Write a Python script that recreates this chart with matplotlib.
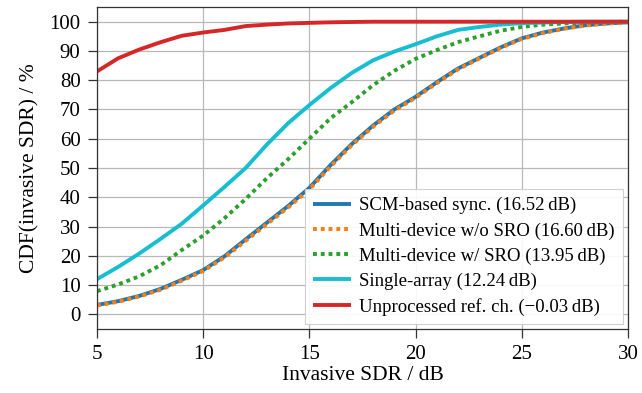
import matplotlib
matplotlib.use("Agg")
import matplotlib.pyplot as plt

plt.rcParams['font.family'] = ['Liberation Serif', 'DejaVu Serif']
plt.rcParams['mathtext.fontset'] = 'stix'

sdr = [5, 6, 7, 8, 9, 10, 11, 12, 13, 14, 15, 16, 17, 18, 19, 20, 21, 22, 23, 24, 25, 26, 27, 28, 29, 30]

scm = [3.2, 4.5, 6.3, 8.7, 11.8, 15.1, 19.8, 25.6, 31.3, 37.0, 43.2, 51.0, 58.2, 64.5, 70.0, 74.3, 79.3, 84.0, 87.6, 91.2, 94.3, 96.3, 97.7, 98.8, 99.4, 99.8]
no_sro = [3.0, 4.3, 6.1, 8.4, 11.5, 14.8, 19.4, 25.1, 30.8, 36.5, 42.7, 50.5, 57.8, 64.1, 69.6, 74.0, 79.0, 83.7, 87.4, 91.0, 94.1, 96.1, 97.6, 98.7, 99.4, 99.8]
w_sro = [7.9, 10.2, 13.0, 16.8, 22.0, 26.9, 32.8, 39.4, 46.5, 53.0, 60.0, 67.0, 72.5, 78.3, 83.2, 87.3, 90.3, 93.0, 95.0, 96.9, 98.2, 99.0, 99.4, 99.7, 99.9, 100.0]
single = [12.0, 16.2, 20.8, 25.8, 31.0, 37.2, 43.5, 50.0, 58.0, 65.3, 71.5, 77.3, 82.5, 86.8, 89.8, 92.3, 95.0, 97.2, 98.2, 99.0, 99.5, 99.7, 99.9, 100.0, 100.0, 100.0]
unproc = [83.0, 87.5, 90.5, 93.0, 95.2, 96.3, 97.2, 98.5, 99.0, 99.4, 99.6, 99.8, 99.9, 100.0, 100.0, 100.0, 100.0, 100.0, 100.0, 100.0, 100.0, 100.0, 100.0, 100.0, 100.0, 100.0]

labels = [
    "SCM-based sync. (16.52\u2009dB)",
    "Multi-device w/o SRO (16.60\u2009dB)",
    "Multi-device w/ SRO (13.95\u2009dB)",
    "Single-array (12.24\u2009dB)",
    "Unprocessed ref. ch. (\u22120.03\u2009dB)",
]

fig = plt.figure(figsize=(6.42, 3.93), dpi=100)
ax = fig.add_axes([0.151, 0.163, 0.827, 0.819])

lw = 2.8
dot = (0, (1, 1))
ax.plot(sdr, scm, color='#1f77b4', lw=lw, label=labels[0], solid_capstyle='butt')
ax.plot(sdr, no_sro, color='#ff7f0e', lw=lw, ls=dot, label=labels[1], dash_capstyle='butt')
ax.plot(sdr, w_sro, color='#2ca02c', lw=lw, ls=dot, label=labels[2], dash_capstyle='butt')
ax.plot(sdr, single, color='#17becf', lw=lw, label=labels[3], solid_capstyle='butt')
ax.plot(sdr, unproc, color='#d62728', lw=lw, label=labels[4], solid_capstyle='butt')

ax.set_xlim(5, 30)
ax.set_ylim(-5, 105)
ax.set_xticks([5, 10, 15, 20, 25, 30])
ax.set_yticks(list(range(0, 101, 10)))
ax.grid(True, color='#b8b8b8', lw=0.9)
ax.set_axisbelow(True)
for s in ax.spines.values():
    s.set_color('#333333')
    s.set_linewidth(0.9)
ax.tick_params(direction='out', length=6.3, width=0.9, labelsize=15, color='#333333', pad=5.5)
ax.set_xlabel("Invasive SDR / dB", fontsize=15.5, labelpad=1)
ax.set_ylabel("CDF(invasive SDR) / %", fontsize=15.5, labelpad=7)

leg = ax.legend(loc='lower right', fontsize=13.5, borderaxespad=0.25, handlelength=2.0,
                labelspacing=0.42, handletextpad=0.45, borderpad=0.45, fancybox=False,
                framealpha=0.9, edgecolor='#cccccc')
leg.get_frame().set_linewidth(0.8)

fig.savefig("out.png", dpi=100)
